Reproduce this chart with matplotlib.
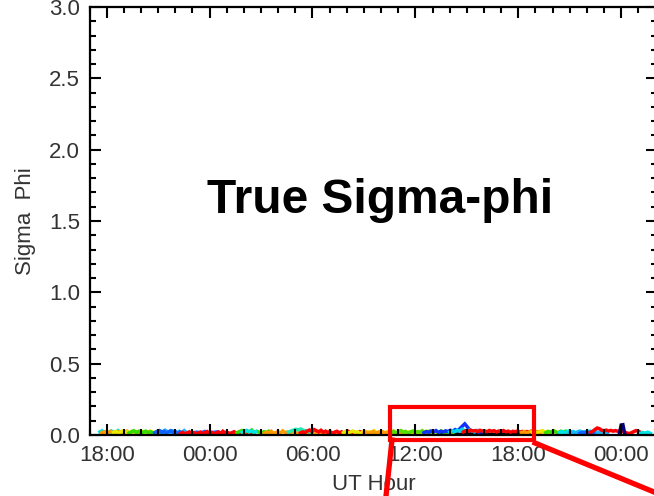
import numpy as np
import matplotlib
matplotlib.use('Agg')
import matplotlib.pyplot as plt
from matplotlib.patches import Rectangle
from matplotlib.lines import Line2D
from matplotlib.ticker import MultipleLocator

# hours counted from 17:00 UT on the first day
tick_hours = [1, 7, 13, 19, 25, 31]
tick_labels = ['18:00', '00:00', '06:00', '12:00', '18:00', '00:00']

# colour segments: (start hour, end hour), values of Sigma Phi
cyan_a_t = (0.6, 2.2)
cyan_a = [0.022, 0.030, 0.017, 0.026, 0.013, 0.028, 0.021, 0.016, 0.031, 0.019, 0.024, 0.012, 0.020]
orange_a_t = (0.7, 3.8)
orange_a = [0.015, 0.022, 0.010, 0.019, 0.026, 0.012, 0.018, 0.024, 0.009, 0.021, 0.016, 0.027,
            0.013, 0.020, 0.011, 0.023, 0.017, 0.025, 0.010, 0.019, 0.022, 0.014, 0.018, 0.012]
yellow_a_t = (1.4, 4.2)
yellow_a = [0.018, 0.025, 0.013, 0.021, 0.028, 0.016, 0.023, 0.011, 0.026, 0.019, 0.014,
            0.024, 0.030, 0.017, 0.022, 0.012, 0.027, 0.020, 0.015, 0.023, 0.018, 0.013]
green_a_t = (2.3, 4.4)
green_a = [0.014, 0.022, 0.030, 0.018, 0.025, 0.012, 0.020, 0.027, 0.016, 0.023, 0.011,
           0.019, 0.026, 0.015, 0.021, 0.013]
blue_a_t = (3.8, 5.4)
blue_a = [0.016, 0.024, 0.031, 0.019, 0.027, 0.013, 0.022, 0.030, 0.017, 0.025, 0.012, 0.021, 0.015]
ltblue_a_t = (4.0, 5.8)
ltblue_a = [0.020, 0.028, 0.015, 0.033, 0.022, 0.018, 0.029, 0.024, 0.013, 0.026, 0.019, 0.031, 0.016, 0.010]
red_a_t = (5.3, 9.6)
red_a = [0.010, 0.018, 0.008, 0.015, 0.022, 0.011, 0.017, 0.006, 0.014, 0.020, 0.009, 0.016,
         0.024, 0.012, 0.019, 0.007, 0.015, 0.021, 0.010, 0.026, 0.013, 0.018, 0.008, 0.016,
         0.023, 0.011, 0.019, 0.014, 0.027, 0.009, 0.017, 0.012, 0.021, 0.015]
blue_b_t = (6.0, 8.2)
blue_b = [0.012, 0.020, 0.015, 0.025, 0.010, 0.018, 0.022, 0.013, 0.019, 0.011]
green_b_t = (8.6, 10.6)
green_b = [0.015, 0.024, 0.031, 0.019, 0.028, 0.022, 0.035, 0.017, 0.026, 0.020, 0.013,
           0.023, 0.018, 0.027, 0.016]
cyan_b_t = (8.9, 9.7)
cyan_b = [0.018, 0.026, 0.032, 0.022, 0.029, 0.019, 0.024]
orange_b_t = (10.2, 14.6)
orange_b = [0.012, 0.020, 0.015, 0.026, 0.010, 0.018, 0.023, 0.014, 0.029, 0.017, 0.021, 0.011,
            0.025, 0.019, 0.013, 0.022, 0.027, 0.016, 0.020, 0.012, 0.024, 0.018, 0.009, 0.021,
            0.026, 0.015, 0.019, 0.011, 0.023, 0.017, 0.013, 0.020, 0.016, 0.012]
cyan_c_t = (11.6, 12.9)
cyan_c = [0.020, 0.028, 0.034, 0.040, 0.036, 0.042, 0.033, 0.029, 0.024, 0.018]
red_b_t = (12.3, 16.7)
red_b = [0.014, 0.022, 0.017, 0.028, 0.035, 0.024, 0.038, 0.030, 0.021, 0.033, 0.019, 0.027,
         0.016, 0.024, 0.012, 0.020, 0.026, 0.015, 0.022, 0.010, 0.019, 0.025, 0.013, 0.021,
         0.017, 0.011, 0.023, 0.016, 0.020, 0.012, 0.018, 0.014, 0.021, 0.015]
black_a_t = (15.5, 26.0)
black_a = [0.004, 0.007, 0.003, 0.006, 0.009, 0.004, 0.006, 0.003, 0.008, 0.005, 0.004, 0.007,
           0.003, 0.006, 0.005, 0.009, 0.004, 0.006, 0.003, 0.007, 0.005, 0.004, 0.008, 0.003]
yellow_b_t = (14.8, 20.2)
yellow_b = [0.016, 0.024, 0.012, 0.021, 0.028, 0.017, 0.023, 0.010, 0.019, 0.026, 0.014, 0.022,
            0.018, 0.029, 0.013, 0.020, 0.025, 0.011, 0.019, 0.024, 0.016, 0.027, 0.013, 0.021,
            0.018, 0.025, 0.012, 0.020, 0.023, 0.015, 0.028, 0.019, 0.014, 0.022, 0.017, 0.026,
            0.012, 0.020, 0.024, 0.016]
orange_c_t = (16.0, 18.2)
orange_c = [0.014, 0.021, 0.010, 0.018, 0.025, 0.013, 0.020, 0.016, 0.023, 0.011, 0.019,
            0.024, 0.015, 0.020, 0.012, 0.018, 0.014]
green_c_t = (17.6, 21.2)
green_c = [0.018, 0.026, 0.014, 0.023, 0.031, 0.019, 0.025, 0.012, 0.021, 0.028, 0.016, 0.024,
           0.020, 0.030, 0.015, 0.022, 0.027, 0.013, 0.021, 0.025, 0.017, 0.029, 0.019, 0.023,
           0.014, 0.020, 0.016]
blue_c_t = (19.5, 23.0)
blue_c = [0.016, 0.024, 0.019, 0.028, 0.022, 0.031, 0.018, 0.026, 0.021, 0.029, 0.024, 0.033,
          0.027, 0.038, 0.030, 0.045, 0.062, 0.078, 0.058, 0.036, 0.028, 0.022, 0.030, 0.019,
          0.025, 0.017]
cyan_d_t = (21.0, 22.6)
cyan_d = [0.021, 0.029, 0.024, 0.034, 0.027, 0.040, 0.031, 0.025, 0.036, 0.028, 0.022, 0.030]
red_c_t = (21.8, 26.2)
red_c = [0.022, 0.030, 0.026, 0.034, 0.028, 0.031, 0.024, 0.033, 0.027, 0.029, 0.023, 0.032,
         0.026, 0.030, 0.021, 0.028, 0.025, 0.031, 0.022, 0.027, 0.019, 0.026, 0.023, 0.029,
         0.020, 0.025, 0.018, 0.024, 0.021, 0.027, 0.019, 0.023, 0.020]
orange_d_t = (25.2, 27.0)
orange_d = [0.017, 0.024, 0.013, 0.021, 0.027, 0.016, 0.022, 0.012, 0.019, 0.025, 0.015, 0.021, 0.018, 0.014]
yellow_c_t = (25.8, 27.4)
yellow_c = [0.020, 0.027, 0.015, 0.024, 0.030, 0.018, 0.025, 0.014, 0.022, 0.028, 0.017, 0.021]
green_d_t = (26.6, 28.2)
green_d = [0.016, 0.025, 0.019, 0.029, 0.022, 0.014, 0.026, 0.020, 0.027, 0.017, 0.023, 0.015]
cyan_e_t = (27.4, 29.6)
cyan_e = [0.018, 0.025, 0.014, 0.022, 0.028, 0.017, 0.024, 0.012, 0.020, 0.026, 0.015, 0.023,
          0.019, 0.027, 0.014, 0.021, 0.016]
ltblue_b_t = (28.0, 30.2)
ltblue_b = [0.015, 0.022, 0.011, 0.019, 0.026, 0.014, 0.021, 0.017, 0.024, 0.012, 0.020, 0.027,
            0.016, 0.022, 0.013, 0.019, 0.015]
blue_d_t = (28.6, 29.4)
blue_d = [0.012, 0.019, 0.014, 0.022, 0.010, 0.017, 0.013]
red_d_t = (29.2, 32.4)
red_d = [0.018, 0.026, 0.038, 0.049, 0.044, 0.033, 0.030, 0.034, 0.028, 0.032, 0.027, 0.031,
         0.026, 0.029, 0.025, 0.020, 0.014, 0.010, 0.016, 0.024, 0.031, 0.027, 0.018, 0.011, 0.008]
navy_a_t = (30.9, 31.2)
navy_a = [0.010, 0.070, 0.072, 0.012]
cyan_f_t = (32.1, 32.7)
cyan_f = [0.010, 0.018, 0.013, 0.020, 0.012]

segments = [
    (black_a_t, black_a, 'black'),
    (cyan_a_t, cyan_a, '#00e5e5'), (orange_a_t, orange_a, '#ff9900'),
    (yellow_a_t, yellow_a, '#e8e800'), (green_a_t, green_a, '#33dd00'),
    (ltblue_a_t, ltblue_a, '#18b4ff'), (blue_a_t, blue_a, '#1060ff'),
    (blue_b_t, blue_b, '#2060ff'), (red_a_t, red_a, '#ff0000'),
    (green_b_t, green_b, '#33dd00'), (cyan_b_t, cyan_b, '#00e5e5'),
    (orange_b_t, orange_b, '#ff9900'), (cyan_c_t, cyan_c, '#20e8b0'),
    (red_b_t, red_b, '#ff0000'), (yellow_b_t, yellow_b, '#e8e800'),
    (orange_c_t, orange_c, '#ff9900'), (green_c_t, green_c, '#55dd00'),
    (blue_c_t, blue_c, '#1030ff'), (cyan_d_t, cyan_d, '#00d8e8'),
    (red_c_t, red_c, '#ff0000'), (orange_d_t, orange_d, '#ff9900'),
    (yellow_c_t, yellow_c, '#e8e800'), (green_d_t, green_d, '#33dd00'),
    (cyan_e_t, cyan_e, '#00e5e5'), (ltblue_b_t, ltblue_b, '#18b4ff'),
    (blue_d_t, blue_d, '#1060ff'), (red_d_t, red_d, '#ff0000'),
    (navy_a_t, navy_a, '#000080'), (cyan_f_t, cyan_f, '#00e5e5'),
]

plt.rcParams['font.family'] = ['Liberation Sans', 'DejaVu Sans']

fig = plt.figure(figsize=(6.54, 4.96), dpi=100)
ax = fig.add_axes([89.5 / 654, 1 - 435 / 496, 567.7 / 654, 428 / 496])

for (t0, t1), vals, col in segments:
    t = np.linspace(t0, t1, len(vals))
    ax.plot(t, vals, color=col, lw=2.5, solid_joinstyle='miter')

ax.set_xlim(0, 33.1)
ax.set_ylim(0, 3.0)
ax.set_xticks(tick_hours)
ax.set_xticklabels(tick_labels)
ax.xaxis.set_minor_locator(MultipleLocator(1))
ax.set_yticks([0, 0.5, 1.0, 1.5, 2.0, 2.5, 3.0])
ax.yaxis.set_minor_locator(MultipleLocator(0.1))
ax.set_axisbelow(False)

ax.tick_params(which='both', direction='in', top=True, right=True, width=1.5,
               labelsize=16, labelcolor='#333333', pad=7)
ax.tick_params(which='major', length=8)
ax.tick_params(which='minor', length=4.5)
for s in ax.spines.values():
    s.set_linewidth(1.6)

ax.set_xlabel('UT Hour', fontsize=16, color='#333333', labelpad=6)
ax.set_ylabel('Sigma  Phi', fontsize=16, color='#333333', labelpad=9)

fig.text(380 / 654, 1 - 213 / 496, 'True Sigma-phi', fontsize=34.5, fontweight='bold',
         ha='center', va='baseline', color='black')

# red highlight box and zoom lines
ax.add_patch(Rectangle((17.52, -0.035), 8.4, 0.231, fill=False, edgecolor='red',
                       lw=3, clip_on=False, zorder=5))
fig.add_artist(Line2D([392 / 654, 386 / 654], [1 - 440 / 496, 0], color='red', lw=3.8))
fig.add_artist(Line2D([535 / 654, 1.0], [1 - 443 / 496, 1 - 492 / 496], color='red', lw=3.8))

plt.savefig('out.png', dpi=100)
